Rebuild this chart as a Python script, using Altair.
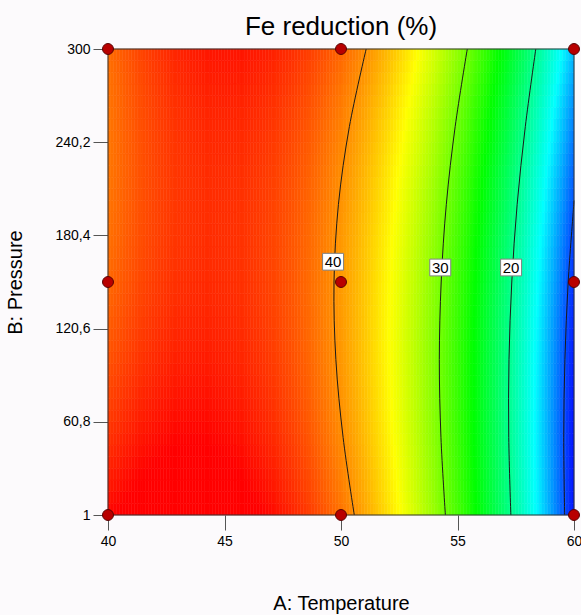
import altair as alt
import pandas as pd

FONT = "Liberation Sans, Arial, Helvetica, sans-serif"

# Axis ticks for factor A (temperature) and factor B (pressure)
temp_ticks = [40, 45, 50, 55, 60]
pressure_ticks = [1, 60.8, 120.6, 180.4, 240.2, 300]

# Runs of the face-centred design
design_temp = [40, 50, 60, 40, 50, 60, 40, 50, 60]
design_pressure = [1, 1, 1, 150.5, 150.5, 150.5, 300, 300, 300]

# Fe reduction (%) along temperature, one list per pressure level
temp_grid = [40, 42.5, 45, 47.5, 50, 52.5, 55, 57.5, 60]
pressure_levels = [1, 25.9, 50.8, 75.8, 100.7, 125.6, 150.5,
                   175.4, 200.3, 225.3, 250.2, 275.1, 300]
fe_p001 = [45.39, 46.87, 46.68, 44.76, 41.09, 35.62, 28.31, 19.15, 8.08]
fe_p026 = [44.48, 46.07, 45.97, 44.15, 40.57, 35.20, 28.00, 18.93, 7.96]
fe_p051 = [43.68, 45.37, 45.37, 43.65, 40.16, 34.89, 27.78, 18.81, 7.94]
fe_p076 = [42.99, 44.76, 44.86, 43.24, 39.85, 34.68, 27.67, 18.79, 8.02]
fe_p101 = [42.39, 44.26, 44.46, 42.94, 39.65, 34.57, 27.65, 18.88, 8.20]
fe_p126 = [41.89, 43.87, 44.16, 42.73, 39.54, 34.56, 27.74, 19.06, 8.48]
fe_p151 = [41.50, 43.57, 43.96, 42.63, 39.54, 34.65, 27.93, 19.35, 8.87]
fe_p175 = [41.21, 43.37, 43.86, 42.63, 39.63, 34.84, 28.22, 19.74, 9.35]
fe_p200 = [41.02, 43.28, 43.87, 42.73, 39.83, 35.14, 28.61, 20.23, 9.94]
fe_p225 = [40.93, 43.29, 43.97, 42.93, 40.13, 35.54, 29.11, 20.82, 10.63]
fe_p250 = [40.94, 43.40, 44.18, 43.24, 40.53, 36.03, 29.70, 21.51, 11.42]
fe_p275 = [41.05, 43.61, 44.48, 43.64, 41.03, 36.63, 30.40, 22.31, 12.31]
fe_p300 = [41.27, 43.92, 44.89, 44.15, 41.64, 37.33, 31.20, 23.20, 13.30]
fe_rows = [fe_p001, fe_p026, fe_p051, fe_p076, fe_p101, fe_p126, fe_p151,
           fe_p175, fe_p200, fe_p225, fe_p250, fe_p275, fe_p300]

# Contour lines: temperature where the response crosses each level
contour_pressure = [1, 50.8, 100.7, 150.5, 200.3, 250.2, 300]
contour40_temp = [50.57, 50.09, 49.78, 49.70, 49.89, 50.36, 51.08]
contour30_temp = [54.48, 54.29, 54.22, 54.30, 54.52, 54.90, 55.42]
contour20_temp = [57.29, 57.20, 57.21, 57.33, 57.56, 57.91, 58.36]
contour10_pressure = [1, 50.8, 100.7, 150.5, 200.3, 202.8]
contour10_temp = [59.60, 59.56, 59.61, 59.75, 59.99, 60.00]

# Contour labels
label_level = [40, 30, 20]
label_temp = [49.66, 54.26, 57.30]
label_pressure = [163.5, 159.8, 159.8]

# Colour ramp (blue -> cyan -> green -> yellow -> red)
color_stops = [7.5, 15.5, 25.5, 35.5, 45.7]
color_range = ["#0000ff", "#00ffff", "#00ff00", "#ffff00", "#ff0000"]

# ---- tables ----
surface = pd.DataFrame(
    [
        {"temp": t, "pressure": p, "fe": v}
        for row, p in zip(fe_rows, pressure_levels)
        for t, v in zip(temp_grid, row)
    ]
)

contours = pd.DataFrame(
    [
        {"level": lvl, "temp": t, "pressure": p}
        for lvl, temps, press in [
            (40, contour40_temp, contour_pressure),
            (30, contour30_temp, contour_pressure),
            (20, contour20_temp, contour_pressure),
            (10, contour10_temp, contour10_pressure),
        ]
        for t, p in zip(temps, press)
    ]
)

labels = pd.DataFrame(
    {"level": [str(v) for v in label_level], "temp": label_temp, "pressure": label_pressure}
)
design = pd.DataFrame({"temp": design_temp, "pressure": design_pressure})
frame = pd.DataFrame(
    {"t0": [temp_ticks[0]], "t1": [temp_ticks[-1]],
     "p0": [pressure_ticks[0]], "p1": [pressure_ticks[-1]]}
)

# ---- scales and axes ----
t_lo, t_hi = temp_ticks[0], temp_ticks[-1]
p_lo, p_hi = pressure_ticks[0], pressure_ticks[-1]
x_scale = alt.Scale(domain=[t_lo, t_hi], nice=False, zero=False)
y_scale = alt.Scale(domain=[p_lo, p_hi], nice=False, zero=False)
fe_scale = alt.Scale(domain=color_stops, range=color_range, interpolate="rgb", clamp=True)

x_axis = alt.Axis(
    values=temp_ticks, title="A: Temperature", grid=False, domain=False,
    tickSize=15, tickColor="#555555", tickWidth=1,
    labelFont=FONT, labelFontSize=14, labelColor="black", labelPadding=4,
    labelFlush=False, labelOverlap=False,
    titleFont=FONT, titleFontSize=20, titleFontWeight="normal", titleColor="black",
    titleY=88, titleBaseline="middle",
)
y_axis = alt.Axis(
    values=pressure_ticks, title="B: Pressure", grid=False, domain=False,
    labelExpr="replace(format(datum.value, '~g'), '.', ',')",
    tickSize=15, tickColor="#555555", tickWidth=1,
    labelFont=FONT, labelFontSize=14, labelColor="black", labelPadding=3,
    labelFlush=False, labelOverlap=False,
    titleFont=FONT, titleFontSize=20, titleFontWeight="normal", titleColor="black",
    titleX=-93, titleBaseline="middle",
)

# ---- response surface ----
# Cubic fit along temperature for each pressure level, then a quadratic fit
# along pressure for each temperature cell; cells are filled from the fits.
t_step = 0.125
p_step = (p_hi - p_lo) / 40
cubic = ("datum.coef[0] + datum.coef[1]*datum.tc + datum.coef[2]*datum.tc*datum.tc"
         " + datum.coef[3]*datum.tc*datum.tc*datum.tc")
quad = "datum.coef[0] + datum.coef[1]*datum.pc + datum.coef[2]*datum.pc*datum.pc"

heat = (
    alt.Chart(surface)
    .transform_regression("temp", "fe", groupby=["pressure"], method="poly",
                          order=3, params=True)
    .transform_calculate(level="datum.keys[0]")
    .transform_calculate(tseq=f"sequence({t_lo}, {t_hi}, {t_step})")
    .transform_flatten(["tseq"], as_=["t"])
    .transform_calculate(tc=f"datum.t + {t_step / 2}")
    .transform_calculate(fe_t=cubic)
    .transform_regression("level", "fe_t", groupby=["t"], method="poly",
                          order=2, params=True)
    .transform_calculate(t="datum.keys[0]")
    .transform_calculate(pseq=f"sequence({p_lo}, {p_hi - p_step / 2}, {p_step})")
    .transform_flatten(["pseq"], as_=["p"])
    .transform_calculate(pc=f"datum.p + {p_step / 2}")
    .transform_calculate(t_end=f"datum.t + {t_step}")
    .transform_calculate(p_end=f"datum.p + {p_step}")
    .transform_calculate(fe=quad)
    .mark_rect(strokeWidth=0.5)
    .encode(
        x=alt.X("t:Q", scale=x_scale, axis=x_axis),
        x2="t_end:Q",
        y=alt.Y("p:Q", scale=y_scale, axis=y_axis),
        y2="p_end:Q",
        color=alt.Color("fe:Q", scale=fe_scale, legend=None),
        stroke=alt.Stroke("fe:Q", scale=fe_scale, legend=None),
    )
)

lines = (
    alt.Chart(contours)
    .mark_line(color="#1a1a1a", strokeWidth=1, interpolate="catmull-rom")
    .encode(
        x=alt.X("temp:Q", scale=x_scale, axis=x_axis),
        y=alt.Y("pressure:Q", scale=y_scale, axis=y_axis),
        detail="level:N",
        order="pressure:Q",
    )
)

border = (
    alt.Chart(frame)
    .mark_rect(filled=False, stroke="#333333", strokeWidth=1)
    .encode(
        x=alt.X("t0:Q", scale=x_scale, axis=x_axis),
        x2="t1:Q",
        y=alt.Y("p0:Q", scale=y_scale, axis=y_axis),
        y2="p1:Q",
    )
)

boxes = (
    alt.Chart(labels)
    .mark_point(shape="M-1,-0.8L1,-0.8L1,0.8L-1,0.8Z", size=441, filled=True,
                fill="white", stroke="#808080", strokeWidth=1, opacity=1)
    .encode(
        x=alt.X("temp:Q", scale=x_scale, axis=x_axis),
        y=alt.Y("pressure:Q", scale=y_scale, axis=y_axis),
    )
)

texts = (
    alt.Chart(labels)
    .mark_text(font=FONT, fontSize=15, color="black", align="center", baseline="middle", dy=0.5)
    .encode(
        x=alt.X("temp:Q", scale=x_scale, axis=x_axis),
        y=alt.Y("pressure:Q", scale=y_scale, axis=y_axis),
        text="level:N",
    )
)

points = (
    alt.Chart(design)
    .mark_point(shape="circle", size=120, filled=True, fill="#b80000",
                stroke="#5a0000", strokeWidth=1, opacity=1)
    .encode(
        x=alt.X("temp:Q", scale=x_scale, axis=x_axis),
        y=alt.Y("pressure:Q", scale=y_scale, axis=y_axis),
    )
)

chart = (
    alt.layer(heat, lines, border, boxes, texts, points)
    .properties(
        width=466,
        height=466,
        title=alt.Title("Fe reduction (%)", font=FONT, fontSize=26, fontWeight="normal",
                        color="black", anchor="middle", offset=10, dy=8),
        autosize=alt.AutoSizeParams(type="none"),
        padding={"left": 108, "top": 49, "right": 7, "bottom": 100},
        background="#fcfafc",
    )
    .configure_view(stroke=None)
)

chart.save("out.html", embed_options={"renderer": "svg", "actions": False})
